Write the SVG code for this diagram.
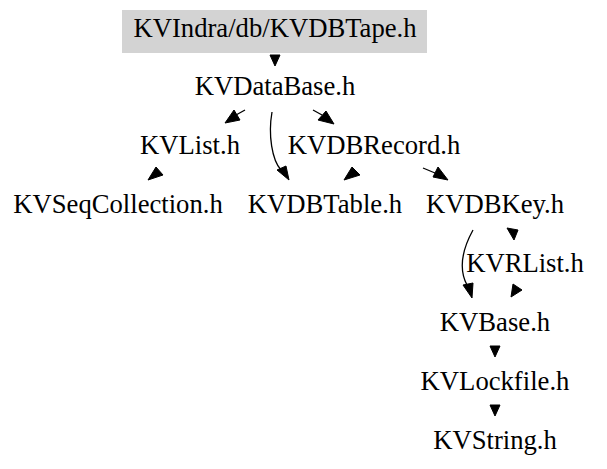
<svg xmlns="http://www.w3.org/2000/svg" width="607" height="469" viewBox="0 0 607 469" font-family="'Liberation Serif', 'Times New Roman', Times, serif">
<style>
text{font-family:'Liberation Serif','Times New Roman',Times,serif;font-size:26.67px;text-anchor:middle;fill:#000}
.e{fill:none;stroke:#000;stroke-width:1.3}
.h{fill:#000;stroke:#000;stroke-width:1}
</style>
<rect width="607" height="469" fill="#fff"/>
<g id="node-tape"><rect x="122" y="10" width="305" height="43" fill="#d3d3d3"/><text x="275" y="37">KVIndra/db/KVDBTape.h</text></g>
<g id="node-database"><text x="275" y="95">KVDataBase.h</text></g>
<g id="node-list"><text x="190" y="154">KVList.h</text></g>
<g id="node-record"><text x="374" y="154">KVDBRecord.h</text></g>
<g id="node-seq"><text x="118" y="213">KVSeqCollection.h</text></g>
<g id="node-table"><text x="325" y="213">KVDBTable.h</text></g>
<g id="node-key"><text x="495" y="213">KVDBKey.h</text></g>
<g id="node-rlist"><text x="525" y="272">KVRList.h</text></g>
<g id="node-base"><text x="495" y="331">KVBase.h</text></g>
<g id="node-lock"><text x="495" y="390">KVLockfile.h</text></g>
<g id="node-string"><text x="495" y="449">KVString.h</text></g>
<g id="edges">
<polygon class="h" points="270,55 280,55 275,66"/>
<path class="e" d="M245,110 L236,115"/>
<polygon class="h" points="234,110 240,120 225,123"/>
<path class="e" d="M272,112 C268,135 272,160 281,170"/>
<polygon class="h" points="277,170 286,166 289,180"/>
<path class="e" d="M313,110 L322,115"/>
<polygon class="h" points="318,120 326,111 334,124"/>
<polygon class="h" points="156,167 163,175 148,180"/>
<polygon class="h" points="352,167 360,175 344,180"/>
<path class="e" d="M423,168 L435,173"/>
<polygon class="h" points="433,177 438,167 448,180"/>
<path class="e" d="M473,230 C462,250 458,268 467,285"/>
<polygon class="h" points="463,285 473,283 472,298"/>
<polygon class="h" points="507,228 518,230 514,240"/>
<polygon class="h" points="511,297 513,284 522,290"/>
<polygon class="h" points="490,346 500,346 495,357"/>
<polygon class="h" points="490,405 500,405 495,416"/>
</g>
</svg>
